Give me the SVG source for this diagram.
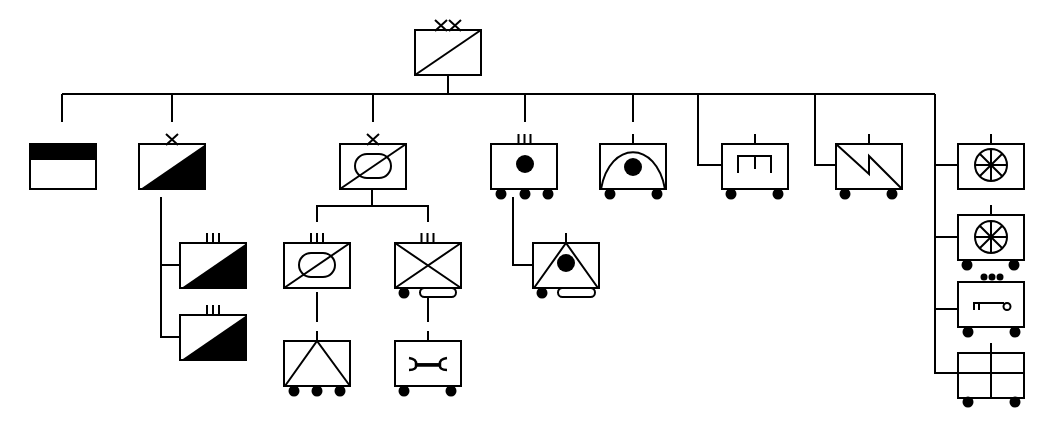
<svg xmlns="http://www.w3.org/2000/svg" width="1057" height="446" viewBox="0 0 1057 446">
<style>
rect,path,circle{stroke:#000;stroke-width:2;fill:none}
.k{fill:#000;stroke:none}
.w{stroke-width:2.5}
</style>
<defs>
<rect id="b" width="66" height="45" fill="#fff"/>
<circle id="w" r="5.500" class="k"/>
<circle id="d" r="9" class="k"/>
<path id="t3" d="M-6 0v-10M0 0v-10M6 0v-10"/>
<path id="x" d="M-6 1L6-10M-6-10L6 1"/>
<path id="wh" d="M16 0A16 16 0 1 1-16 0A16 16 0 1 1 16 0M-16 0H16M0-16V16M-11.300-11.300L11.300 11.300M-11.300 11.300L11.300-11.300"/>
</defs>
<g id="connectors">
<path d="M448 75V94M62 94H935M62 94V122M172 94V122M373 94V122M525 94V122M633 94V122"/>
<path d="M698 94V165H722M815 94V165H836M935 94V373H958M935 165H958M935 237H958M935 309H958"/>
<path d="M161 197V337H180M161 265H180"/>
<path d="M372 190V206M317 222V206H428V222M317 292V322M428 297V322"/>
<path d="M513 197V265H533"/>
</g>
<g id="n0"><use href="#x" x="441" y="30"/><use href="#x" x="455" y="30"/><rect x="415" y="30" width="66" height="45"/><path d="M415 75L481 30"/></g>
<g id="n1"><rect x="30" y="144" width="66" height="45"/><rect class="k" x="29" y="143" width="68" height="17"/></g>
<g id="n2"><use href="#x" x="172" y="144"/><rect x="139" y="144" width="66" height="45"/><path class="k" d="M139 190L206 144V190Z"/></g>
<g id="n3"><use href="#t3" x="213" y="243"/><rect x="180" y="243" width="66" height="45"/><path class="k" d="M180 289L247 243V289Z"/></g>
<g id="n4"><use href="#t3" x="213" y="315"/><rect x="180" y="315" width="66" height="45"/><path class="k" d="M180 361L247 315V361Z"/></g>
<g id="n5"><use href="#x" x="373" y="144"/><rect x="340" y="144" width="66" height="45"/><rect x="355" y="154" width="36" height="24" rx="12"/><path d="M340 189L406 144"/></g>
<g id="n6"><use href="#t3" x="317" y="243"/><rect x="284" y="243" width="66" height="45"/><rect x="299" y="253" width="36" height="24" rx="12"/><path d="M284 288L350 243"/></g>
<g id="n7"><use href="#t3" x="427.500" y="243"/><rect x="395" y="243" width="66" height="45"/><path d="M395 288L461 243M395 243L461 288"/><use href="#w" x="404" y="293"/><rect x="420" y="288" width="36" height="9" rx="4.500"/></g>
<g id="n8"><path d="M317 331V341"/><rect x="284" y="341" width="66" height="45"/><path d="M285 386L317 341L350 386"/><use href="#w" x="294" y="391"/><use href="#w" x="317" y="391"/><use href="#w" x="340" y="391"/></g>
<g id="n9"><path d="M428 331V341"/><rect x="395" y="341" width="66" height="45"/><path class="w" d="M409 358Q417 359 416 364.500Q417 370 409 370M447 358Q439 359 440 364.500Q439 370 447 370M416 364.500H440"/><path d="M416 365H440" style="stroke-width:3.500"/><use href="#w" x="404" y="391"/><use href="#w" x="451" y="391"/></g>
<g id="n10"><use href="#t3" x="524.500" y="144"/><rect x="491" y="144" width="66" height="45"/><use href="#d" x="525" y="164"/><use href="#w" x="501" y="194"/><use href="#w" x="525" y="194"/><use href="#w" x="548" y="194"/></g>
<g id="n11"><path d="M566 233V243"/><rect x="533" y="243" width="66" height="45"/><path d="M534 288L566 243L598 288"/><use href="#d" x="566" y="263"/><use href="#w" x="542" y="293"/><rect x="558" y="288" width="37" height="9" rx="4.500"/></g>
<g id="n12"><path d="M633 134V144"/><rect x="600" y="144" width="66" height="45"/><path d="M601 189C610 140 656 140 665 189"/><use href="#d" x="633" y="167"/><use href="#w" x="610" y="194"/><use href="#w" x="657" y="194"/></g>
<g id="n13"><path d="M755 134V144"/><rect x="722" y="144" width="66" height="45"/><path d="M738 173V156H771V173M755 156V169"/><use href="#w" x="731" y="194"/><use href="#w" x="778" y="194"/></g>
<g id="n14"><path d="M869 134V144"/><rect x="836" y="144" width="66" height="45"/><path d="M836 144L869 174V156L902 189"/><use href="#w" x="845" y="194"/><use href="#w" x="892" y="194"/></g>
<g id="n15"><path d="M991 134V144"/><rect x="958" y="144" width="66" height="45"/><use href="#wh" x="991" y="165"/></g>
<g id="n16"><path d="M991 205V215"/><rect x="958" y="215" width="66" height="45"/><use href="#wh" x="991" y="237"/><use href="#w" x="967" y="265"/><use href="#w" x="1014" y="265"/></g>
<g id="n17"><circle class="k" cx="984" cy="277" r="3.500"/><circle class="k" cx="992" cy="277" r="3.500"/><circle class="k" cx="1000" cy="277" r="3.500"/><rect x="958" y="282" width="66" height="45"/><path d="M974 310V303H1004M979 303V310"/><circle cx="1007" cy="306.500" r="3.500"/><use href="#w" x="968" y="332"/><use href="#w" x="1015" y="332"/></g>
<g id="n18"><rect x="958" y="353" width="66" height="45"/><path d="M991 343V398M958 373H1024"/><use href="#w" x="968" y="402"/><use href="#w" x="1015" y="402"/></g>
</svg>
